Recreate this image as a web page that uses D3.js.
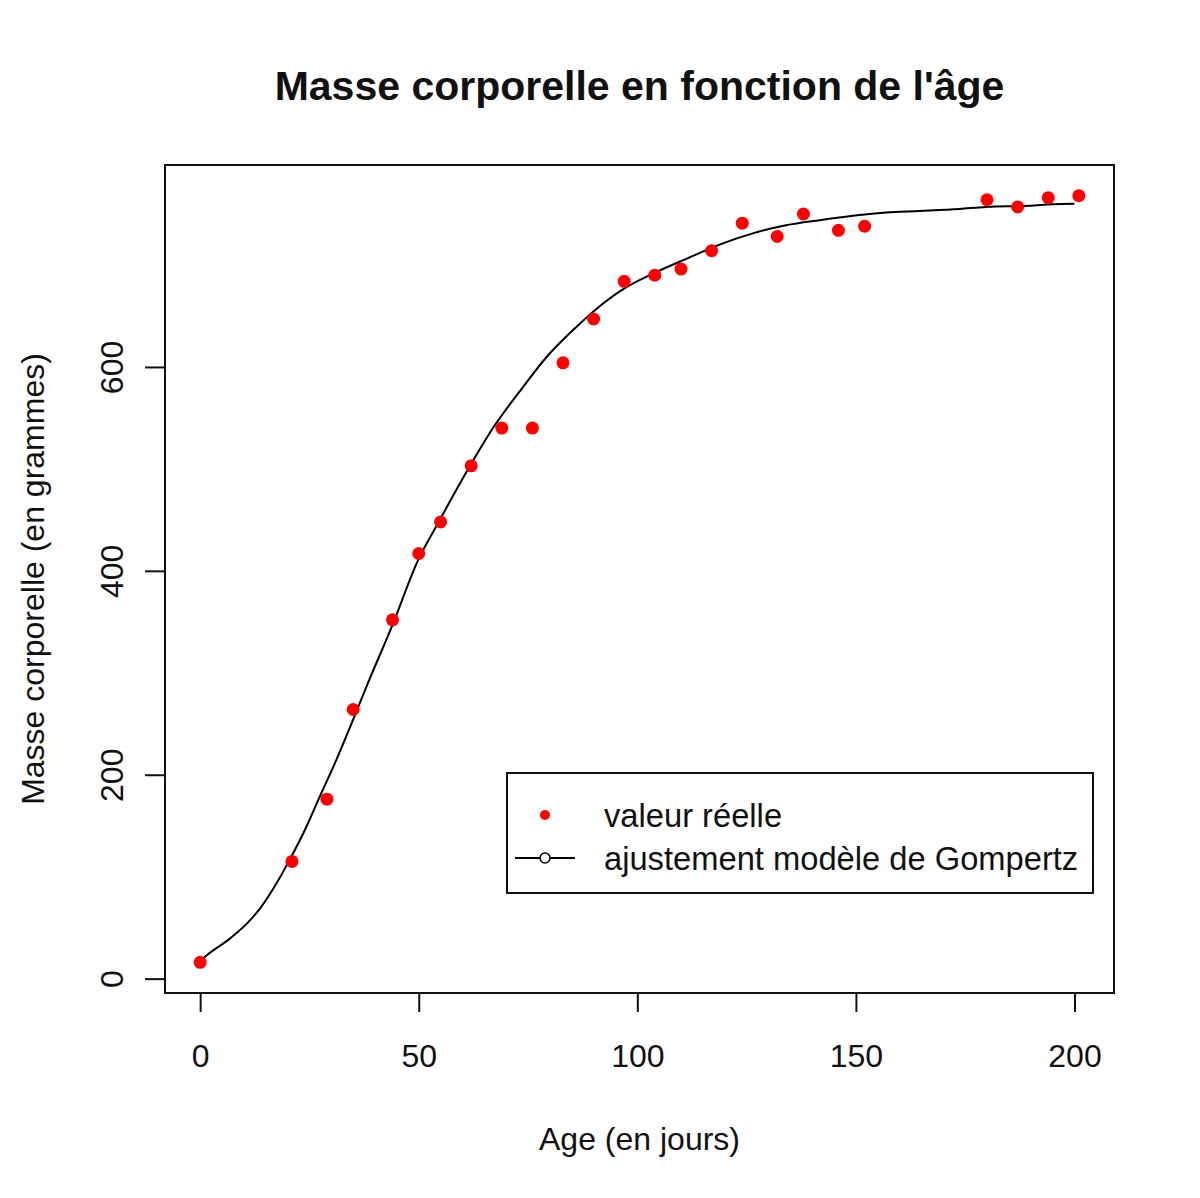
<!DOCTYPE html>
<html>
<head>
<meta charset="utf-8">
<script src="https://cdn.jsdelivr.net/npm/d3@7"></script>
<style>
  html, body { margin: 0; padding: 0; background: #fff; }
  text { font-family: "Liberation Sans", Arial, sans-serif; fill: #111; }
</style>
</head>
<body>
<div id="chart"></div>
<script>
// observed values (age in days, mass in grams)
const ages   = [0, 21, 29, 35, 44, 50, 55, 62, 69, 76, 83, 90, 97, 104, 110, 117, 124, 132, 138, 146, 152, 180, 187, 194, 201];
const masses = [16, 115, 176, 264, 352, 417, 448, 503, 540, 540, 604, 647, 684, 690, 696, 714, 741, 728, 750, 734, 738, 764, 757, 766, 768];

// fitted Gompertz curve
const fitAges   = [0, 1, 6.7, 10.9, 13.9, 17.4, 20.4, 24.2, 27.3, 31.1, 34.9, 38, 44.1, 49.8, 54.7, 61.6, 66.2, 73.8, 79.1, 86, 92.1, 97.4, 104.3, 111.2, 118.8, 126.4, 134, 141.7, 150.8, 156.9, 164.5, 173.7, 179.8, 189.7, 195, 200];
const fitMasses = [17, 21, 39, 55, 70, 93, 116, 148, 178, 214, 253, 286, 348, 410, 449, 502, 535, 580, 609, 639, 662, 678, 693, 706, 720, 731, 739, 744, 749, 751.5, 753, 755, 757, 758, 759.5, 760];

const xTicks = [0, 50, 100, 150, 200];
const yTicks = [0, 200, 400, 600];

const legendItems = ['valeur réelle', 'ajustement modèle de Gompertz'];

const width = 1200, height = 1198;
const plot = {left: 165, right: 1114, top: 165, bottom: 993};

const svg = d3.select('#chart').append('svg')
    .attr('width', width)
    .attr('height', height);

// R style 4% padding around the data range
function padded(ext) {
    const d = (ext[1] - ext[0]) * 0.04;
    return [ext[0] - d, ext[1] + d];
}

const x = d3.scaleLinear().domain(padded(d3.extent(ages))).range([plot.left, plot.right]);
const y = d3.scaleLinear().domain(padded(d3.extent(masses))).range([plot.bottom, plot.top]);

// title
svg.append('text')
    .attr('x', (plot.left + plot.right) / 2)
    .attr('y', 100)
    .attr('text-anchor', 'middle')
    .style('font-size', '41px')
    .style('font-weight', 'bold')
    .text("Masse corporelle en fonction de l'âge");

// axes
const xAxis = d3.axisBottom(x).tickValues(xTicks).tickSize(19).tickPadding(32).tickSizeOuter(0);
const gx = svg.append('g')
    .attr('transform', `translate(0, ${plot.bottom})`)
    .call(xAxis);
gx.select('.domain').remove();
gx.selectAll('line').attr('stroke', '#111').attr('stroke-width', 2);
gx.selectAll('text').style('font-size', '32px').attr('fill', '#111');

const yAxis = d3.axisLeft(y).tickValues(yTicks).tickSize(20).tickSizeOuter(0);
const gy = svg.append('g')
    .attr('transform', `translate(${plot.left}, 0)`)
    .call(yAxis);
gy.select('.domain').remove();
gy.selectAll('line').attr('stroke', '#111').attr('stroke-width', 2);
gy.selectAll('text')
    .style('font-size', '32px')
    .attr('fill', '#111')
    .attr('x', 0).attr('dy', 0)
    .attr('text-anchor', 'middle')
    .attr('transform', 'translate(-42, 0) rotate(-90)');

// box
svg.append('rect')
    .attr('x', plot.left).attr('y', plot.top)
    .attr('width', plot.right - plot.left)
    .attr('height', plot.bottom - plot.top)
    .attr('fill', 'none')
    .attr('stroke', '#111')
    .attr('stroke-width', 2);

// axis titles
svg.append('text')
    .attr('x', (plot.left + plot.right) / 2)
    .attr('y', 1150)
    .attr('text-anchor', 'middle')
    .style('font-size', '32px')
    .text('Age (en jours)');

svg.append('text')
    .attr('transform', `translate(44, ${(plot.top + plot.bottom) / 2}) rotate(-90)`)
    .attr('text-anchor', 'middle')
    .style('font-size', '32px')
    .text('Masse corporelle (en grammes)');

// fitted curve
const fit = fitAges.map((a, i) => [a, fitMasses[i]]);
const line = d3.line()
    .x(d => x(d[0]))
    .y(d => y(d[1]))
    .curve(d3.curveMonotoneX);

svg.append('path')
    .datum(fit)
    .attr('d', line)
    .attr('fill', 'none')
    .attr('stroke', '#000')
    .attr('stroke-width', 2);

// observed points
const obs = ages.map((a, i) => [a, masses[i]]);
svg.selectAll('.dot')
    .data(obs)
    .enter()
    .append('circle')
    .attr('class', 'dot')
    .attr('r', 6.5)
    .attr('cx', d => x(d[0]))
    .attr('cy', d => y(d[1]))
    .attr('fill', '#f00');

// legend
const lg = svg.append('g');
lg.append('rect')
    .attr('x', 507).attr('y', 773)
    .attr('width', 586).attr('height', 120)
    .attr('fill', '#fff')
    .attr('stroke', '#111')
    .attr('stroke-width', 2);

lg.append('circle')
    .attr('cx', 545).attr('cy', 815)
    .attr('r', 5)
    .attr('fill', '#f00');

lg.append('line')
    .attr('x1', 515).attr('x2', 575)
    .attr('y1', 858).attr('y2', 858)
    .attr('stroke', '#000')
    .attr('stroke-width', 2);
lg.append('circle')
    .attr('cx', 545).attr('cy', 858)
    .attr('r', 5)
    .attr('fill', '#fff')
    .attr('stroke', '#000')
    .attr('stroke-width', 1.5);

lg.selectAll('.ltext')
    .data(legendItems)
    .enter()
    .append('text')
    .attr('class', 'ltext')
    .attr('x', 604)
    .attr('y', (d, i) => 827 + i * 43)
    .style('font-size', '32.7px')
    .text(d => d);
</script>
</body>
</html>
